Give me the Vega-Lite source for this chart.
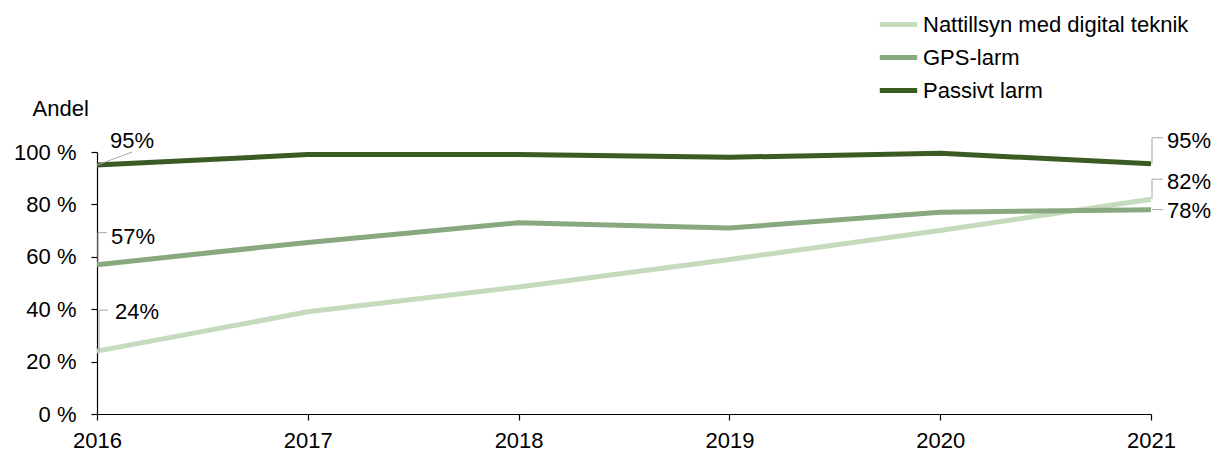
{
  "$schema": "https://vega.github.io/schema/vega-lite/v6.json",
  "autosize": {"type": "none"},
  "padding": {"left": 97, "top": 152, "right": 64, "bottom": 38},
  "width": 1054,
  "height": 262,
  "background": "white",
  "config": {
    "font": "Liberation Sans",
    "view": {"stroke": null},
    "axis": {"grid": false, "domainColor": "#000000", "tickColor": "#000000", "labelColor": "#000000", "labelFontSize": 22, "titleFontSize": 22, "titleFontWeight": "normal", "titleColor": "#000000", "tickSize": 6, "domainWidth": 1.2, "tickWidth": 1.2},
    "legend": {"labelFontSize": 22, "labelColor": "#000000", "labelLimit": 0}
  },
  "datasets": {
    "series": [
      {"series": "Nattillsyn med digital teknik", "year": 2016, "value": 24},
      {"series": "Nattillsyn med digital teknik", "year": 2017, "value": 39},
      {"series": "Nattillsyn med digital teknik", "year": 2018, "value": 48.5},
      {"series": "Nattillsyn med digital teknik", "year": 2019, "value": 59},
      {"series": "Nattillsyn med digital teknik", "year": 2020, "value": 70},
      {"series": "Nattillsyn med digital teknik", "year": 2021, "value": 82},
      {"series": "GPS-larm", "year": 2016, "value": 57},
      {"series": "GPS-larm", "year": 2017, "value": 65.5},
      {"series": "GPS-larm", "year": 2018, "value": 73},
      {"series": "GPS-larm", "year": 2019, "value": 71},
      {"series": "GPS-larm", "year": 2020, "value": 77},
      {"series": "GPS-larm", "year": 2021, "value": 78},
      {"series": "Passivt larm", "year": 2016, "value": 95},
      {"series": "Passivt larm", "year": 2017, "value": 99},
      {"series": "Passivt larm", "year": 2018, "value": 99},
      {"series": "Passivt larm", "year": 2019, "value": 98},
      {"series": "Passivt larm", "year": 2020, "value": 99.5},
      {"series": "Passivt larm", "year": 2021, "value": 95.5}
    ],
    "labels": [
      {"id": "L1", "series": "Passivt larm", "year": 2016, "value": 95, "label": "95%"},
      {"id": "L2", "series": "GPS-larm", "year": 2016, "value": 57, "label": "57%"},
      {"id": "L3", "series": "Nattillsyn med digital teknik", "year": 2016, "value": 24, "label": "24%"},
      {"id": "R1", "series": "Passivt larm", "year": 2021, "value": 95.5, "label": "95%"},
      {"id": "R2", "series": "Nattillsyn med digital teknik", "year": 2021, "value": 82, "label": "82%"},
      {"id": "R3", "series": "GPS-larm", "year": 2021, "value": 78, "label": "78%"}
    ]
  },
  "encoding": {
    "x": {"field": "year", "type": "quantitative", "scale": {"domain": [2016, 2021], "nice": false, "zero": false},
      "axis": {"title": null, "values": [2016, 2017, 2018, 2019, 2020, 2021], "format": "d", "labelPadding": 10, "labelFlush": false}},
    "y": {"field": "value", "type": "quantitative", "scale": {"domain": [0, 100], "nice": false},
      "axis": {"title": "Andel", "values": [0, 20, 40, 60, 80, 100], "labelExpr": "datum.value + ' %'", "labelPadding": 15, "titleAngle": 0, "titleAlign": "left", "titleBaseline": "alphabetic", "titleX": -65, "titleY": -37}}
  },
  "layer": [
    {
      "data": {"name": "series"},
      "mark": {"type": "line", "strokeWidth": 5},
      "encoding": {
        "color": {"field": "series", "type": "nominal",
          "scale": {"domain": ["Nattillsyn med digital teknik", "GPS-larm", "Passivt larm"], "range": ["#c4dbbd", "#88a97f", "#3c5a23"]},
          "legend": {"title": null, "orient": "none", "legendX": 780, "legendY": -149, "symbolType": "stroke", "symbolStrokeWidth": 5, "symbolSize": 1400, "labelOffset": 3, "rowPadding": 0}}
      }
    },
    {"data": {"name": "labels"}, "transform": [{"filter": "datum.id == 'L1'"}], "mark": {"type": "rule", "color": "#a6a6a6", "strokeWidth": 1, "x2Offset": 35, "y2Offset": -13},
      "encoding": {"x2": {"field": "year"}, "y2": {"field": "value"}}},
    {"data": {"name": "labels"}, "transform": [{"filter": "datum.id == 'L2'"}], "mark": {"type": "rule", "color": "#a6a6a6", "strokeWidth": 1, "xOffset": 1, "x2Offset": 1, "y2Offset": -32},
      "encoding": {"x2": {"field": "year"}, "y2": {"field": "value"}}},
    {"data": {"name": "labels"}, "transform": [{"filter": "datum.id == 'L2'"}], "mark": {"type": "rule", "color": "#a6a6a6", "strokeWidth": 1, "xOffset": 1, "yOffset": -32, "x2Offset": 10, "y2Offset": -32},
      "encoding": {"x2": {"field": "year"}, "y2": {"field": "value"}}},
    {"data": {"name": "labels"}, "transform": [{"filter": "datum.id == 'L3'"}], "mark": {"type": "rule", "color": "#a6a6a6", "strokeWidth": 1, "xOffset": 2, "x2Offset": 2, "y2Offset": -41},
      "encoding": {"x2": {"field": "year"}, "y2": {"field": "value"}}},
    {"data": {"name": "labels"}, "transform": [{"filter": "datum.id == 'L3'"}], "mark": {"type": "rule", "color": "#a6a6a6", "strokeWidth": 1, "xOffset": 2, "yOffset": -41, "x2Offset": 11, "y2Offset": -41},
      "encoding": {"x2": {"field": "year"}, "y2": {"field": "value"}}},
    {"data": {"name": "labels"}, "transform": [{"filter": "datum.id == 'R1'"}], "mark": {"type": "rule", "color": "#a6a6a6", "strokeWidth": 1, "xOffset": 1, "x2Offset": 1, "y2Offset": -26},
      "encoding": {"x2": {"field": "year"}, "y2": {"field": "value"}}},
    {"data": {"name": "labels"}, "transform": [{"filter": "datum.id == 'R1'"}], "mark": {"type": "rule", "color": "#a6a6a6", "strokeWidth": 1, "xOffset": 1, "yOffset": -26, "x2Offset": 12, "y2Offset": -26},
      "encoding": {"x2": {"field": "year"}, "y2": {"field": "value"}}},
    {"data": {"name": "labels"}, "transform": [{"filter": "datum.id == 'R2'"}], "mark": {"type": "rule", "color": "#a6a6a6", "strokeWidth": 1, "xOffset": 1, "x2Offset": 1, "y2Offset": -20},
      "encoding": {"x2": {"field": "year"}, "y2": {"field": "value"}}},
    {"data": {"name": "labels"}, "transform": [{"filter": "datum.id == 'R2'"}], "mark": {"type": "rule", "color": "#a6a6a6", "strokeWidth": 1, "xOffset": 1, "yOffset": -20, "x2Offset": 12, "y2Offset": -20},
      "encoding": {"x2": {"field": "year"}, "y2": {"field": "value"}}},
    {"data": {"name": "labels"}, "transform": [{"filter": "datum.id == 'R3'"}], "mark": {"type": "rule", "color": "#a6a6a6", "strokeWidth": 1, "xOffset": 1, "x2Offset": 12},
      "encoding": {"x2": {"field": "year"}, "y2": {"field": "value"}}},
    {"data": {"name": "labels"}, "transform": [{"filter": "datum.id == 'L1'"}], "mark": {"type": "text", "align": "left", "baseline": "middle", "fontSize": 22, "color": "#000000", "dx": 13, "dy": -24},
      "encoding": {"text": {"field": "label"}}},
    {"data": {"name": "labels"}, "transform": [{"filter": "datum.id == 'L2'"}], "mark": {"type": "text", "align": "left", "baseline": "middle", "fontSize": 22, "color": "#000000", "dx": 14, "dy": -28},
      "encoding": {"text": {"field": "label"}}},
    {"data": {"name": "labels"}, "transform": [{"filter": "datum.id == 'L3'"}], "mark": {"type": "text", "align": "left", "baseline": "middle", "fontSize": 22, "color": "#000000", "dx": 18, "dy": -39},
      "encoding": {"text": {"field": "label"}}},
    {"data": {"name": "labels"}, "transform": [{"filter": "datum.id == 'R1'"}], "mark": {"type": "text", "align": "left", "baseline": "middle", "fontSize": 22, "color": "#000000", "dx": 16, "dy": -23},
      "encoding": {"text": {"field": "label"}}},
    {"data": {"name": "labels"}, "transform": [{"filter": "datum.id == 'R2'"}], "mark": {"type": "text", "align": "left", "baseline": "middle", "fontSize": 22, "color": "#000000", "dx": 16, "dy": -17},
      "encoding": {"text": {"field": "label"}}},
    {"data": {"name": "labels"}, "transform": [{"filter": "datum.id == 'R3'"}], "mark": {"type": "text", "align": "left", "baseline": "middle", "fontSize": 22, "color": "#000000", "dx": 16, "dy": 1},
      "encoding": {"text": {"field": "label"}}}
  ]
}
